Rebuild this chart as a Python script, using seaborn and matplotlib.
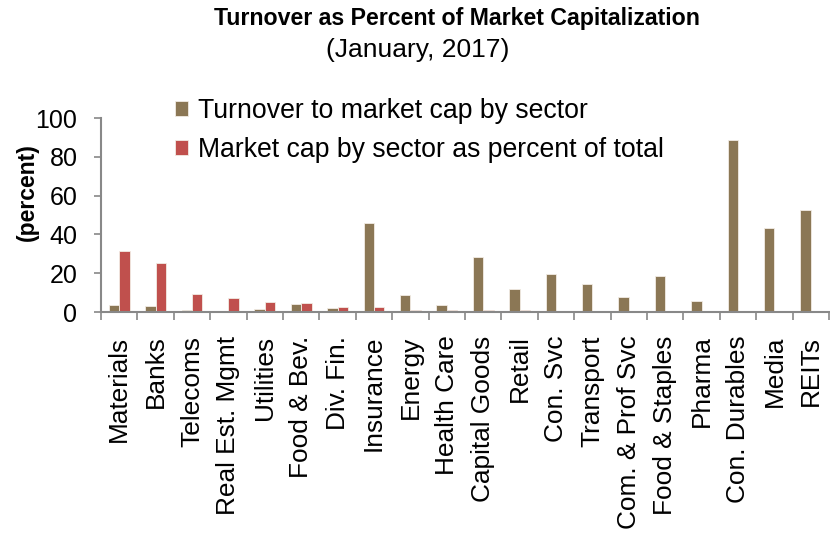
import matplotlib.pyplot as plt
import pandas as pd
import seaborn as sns

sectors = [
    'Materials', 'Banks', 'Telecoms', 'Real Est. Mgmt', 'Utilities',
    'Food & Bev.', 'Div. Fin.', 'Insurance', 'Energy', 'Health Care',
    'Capital Goods', 'Retail', 'Con. Svc', 'Transport', 'Com. & Prof Svc',
    'Food & Staples', 'Pharma', 'Con. Durables', 'Media', 'REITs',
]
turnover = [3.8, 2.9, 1.2, 0.0, 1.5, 3.9, 1.9, 46.0, 8.9, 3.4,
            28.6, 11.6, 19.8, 14.4, 7.5, 18.7, 5.8, 88.5, 43.3, 52.7]
mkt_cap = [31.2, 25.2, 9.2, 7.0, 5.3, 4.8, 2.4, 2.4, 1.2, 1.2,
           1.2, 1.1, 0.7, 0.7, 0.2, 0.2, 0.1, 0.0, 0.0, 0.0]

series_names = ['Turnover to market cap by sector',
                'Market cap by sector as percent of total']
palette = {
    series_names[0]: '#8B7755',
    series_names[1]: '#C0504D',
}

df = pd.concat([
    pd.DataFrame({'sector': sectors, 'value': turnover, 'series': series_names[0]}),
    pd.DataFrame({'sector': sectors, 'value': mkt_cap, 'series': series_names[1]}),
])

sns.set_style('white', {'xtick.bottom': True, 'ytick.left': True,
                        'text.color': 'black', 'axes.labelcolor': 'black',
                        'xtick.color': 'black', 'ytick.color': 'black'})
plt.rcParams['font.family'] = ['Liberation Sans', 'DejaVu Sans']

fig = plt.figure(figsize=(8.3, 5.36), dpi=100)
ax = fig.add_axes([101 / 830, 1 - 312 / 536, 728 / 830, 194 / 536])

sns.barplot(data=df, x='sector', y='value', hue='series', palette=palette,
            order=sectors, hue_order=series_names, width=0.57, gap=0,
            edgecolor='#f2ece4', linewidth=0.6, saturation=1, ax=ax)

ax.set(xlim=(-0.5, len(sectors) - 0.5), ylim=(0, 100), xlabel='', ylabel='')
ax.set_yticks([0, 20, 40, 60, 80, 100])
ax.set_xticks(range(len(sectors)))
ax.set_xticklabels(sectors, rotation=90, fontsize=18.9)
ax.set_xticks([i + 0.5 for i in range(-1, len(sectors))], minor=True)
ax.tick_params(axis='x', which='major', length=0, pad=17, labelcolor='black')
ax.tick_params(axis='x', which='minor', bottom=True, direction='out', length=6,
               width=1.2, color='#888888')
ax.tick_params(axis='y', left=True, direction='out', length=5, width=1.2,
               color='#888888', labelcolor='black', labelsize=18, pad=12)

sns.despine(ax=ax)
for side in ['left', 'bottom']:
    ax.spines[side].set_color('#888888')
    ax.spines[side].set_linewidth(1.5)

ax.set_ylabel('(percent)', fontsize=16.5, fontweight='bold', color='black')
ax.yaxis.set_label_coords(-0.086, 0.62)

fig.text(457 / 830, 1 - 18 / 536, 'Turnover as Percent of Market Capitalization',
         ha='center', va='center', fontsize=16.7, fontweight='bold', color='black')
fig.text(418 / 830, 1 - 50 / 536, '(January, 2017)',
         ha='center', va='center', fontsize=19, color='black')

ax.legend(loc='upper left', bbox_to_anchor=(175 / 830, 1 - 98 / 536),
          bbox_transform=fig.transFigure, frameon=False, fontsize=19.2,
          handlelength=0.5, handleheight=0.5, handletextpad=0.35,
          labelspacing=0.5, borderpad=0, borderaxespad=0, labelcolor='black')

fig.savefig('out.png', dpi=100)
